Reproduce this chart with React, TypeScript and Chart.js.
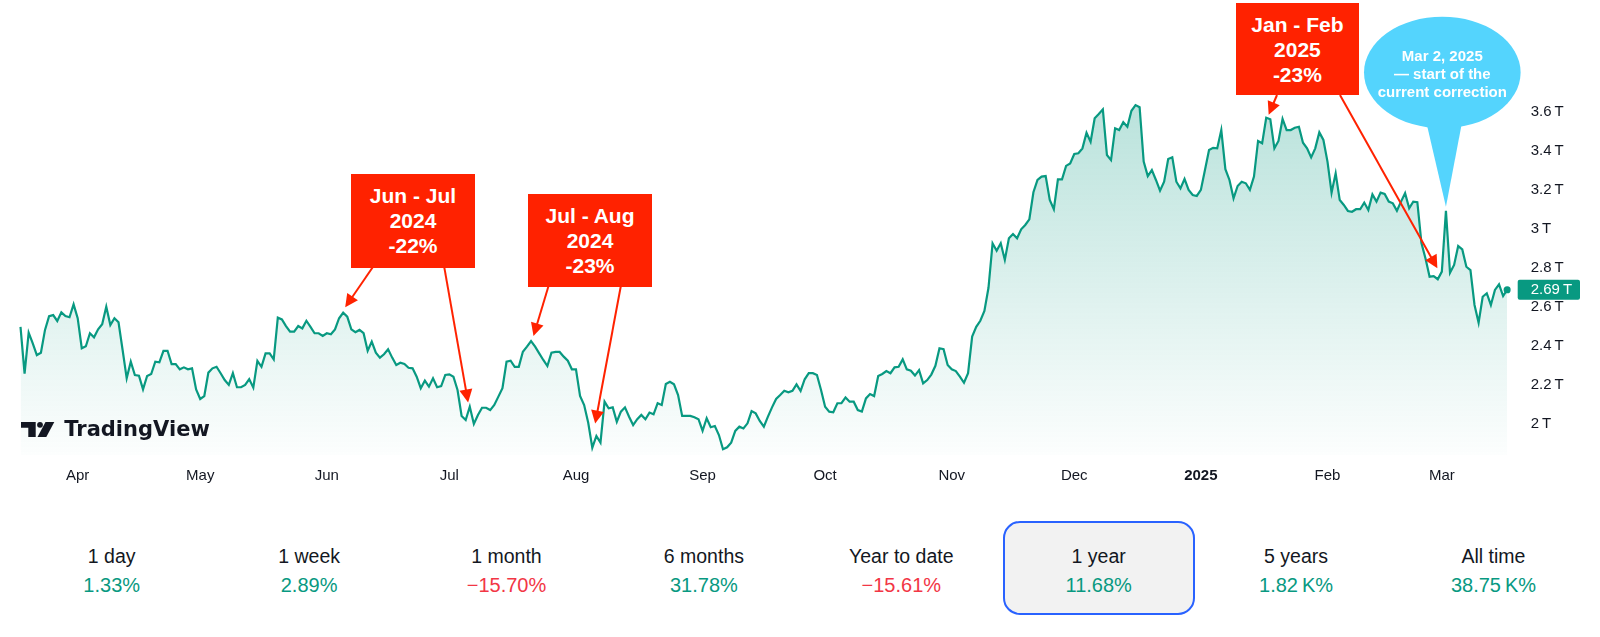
import React, { useEffect, useRef } from "react";
import { Chart, registerables } from "chart.js";

Chart.register(...registerables);

// ---------------- DATA ----------------
// Daily total crypto market cap (trillions USD), starting 2024-03-18, one value per day.
const SERIES_START_UTC = [2024, 2, 18];
const MARKET_CAP_T = [
  2.50, 2.26, 2.47, 2.415, 2.355, 2.367, 2.484, 2.555, 2.56, 2.53,
  2.574, 2.555, 2.549, 2.615, 2.544, 2.39, 2.40, 2.467, 2.446, 2.487,
  2.513, 2.603, 2.509, 2.544, 2.523, 2.381, 2.236, 2.321, 2.253, 2.249,
  2.179, 2.248, 2.258, 2.321, 2.318, 2.377, 2.377, 2.309, 2.309, 2.282,
  2.292, 2.282, 2.287, 2.179, 2.13, 2.145, 2.265, 2.287, 2.295, 2.262,
  2.227, 2.202, 2.262, 2.19, 2.19, 2.202, 2.232, 2.188, 2.325, 2.295,
  2.364, 2.364, 2.333, 2.547, 2.538, 2.504, 2.475, 2.475, 2.504, 2.492,
  2.531, 2.50, 2.467, 2.467, 2.453, 2.467, 2.462, 2.487, 2.544, 2.572,
  2.552, 2.487, 2.472, 2.484, 2.467, 2.377, 2.424, 2.367, 2.342, 2.359,
  2.385, 2.342, 2.304, 2.316, 2.309, 2.29, 2.287, 2.244, 2.185, 2.224,
  2.193, 2.236, 2.19, 2.196, 2.253, 2.256, 2.244, 2.176, 2.043, 2.022,
  2.09, 2.002, 2.048, 2.085, 2.085, 2.073, 2.099, 2.142, 2.185, 2.321,
  2.326, 2.295, 2.295, 2.372, 2.398, 2.427, 2.398, 2.364, 2.33, 2.299,
  2.367, 2.371, 2.371, 2.347, 2.326, 2.282, 2.282, 2.145, 2.099, 2.008,
  1.88, 1.94, 1.906, 2.116, 2.082, 2.087, 2.013, 2.065, 2.087, 2.039,
  1.996, 2.026, 2.048, 2.026, 2.06, 2.051, 2.108, 2.099, 2.207, 2.218,
  2.205, 2.15, 2.043, 2.043, 2.043, 2.036, 2.026, 1.967, 2.031, 1.985,
  1.991, 1.945, 1.872, 1.882, 1.906, 1.966, 1.988, 1.979, 2.005, 2.068,
  2.056, 2.017, 1.988, 2.039, 2.087, 2.13, 2.15, 2.172, 2.164, 2.172,
  2.205, 2.171, 2.231, 2.262, 2.262, 2.253, 2.176, 2.09, 2.065, 2.062,
  2.108, 2.108, 2.138, 2.116, 2.116, 2.073, 2.065, 2.133, 2.155, 2.145,
  2.248, 2.258, 2.273, 2.262, 2.292, 2.295, 2.333, 2.282, 2.275, 2.25,
  2.278, 2.21, 2.227, 2.255, 2.30, 2.39, 2.385, 2.304, 2.282, 2.273,
  2.244, 2.213, 2.262, 2.45, 2.50, 2.531, 2.581, 2.70, 2.928, 2.89,
  2.928, 2.843, 2.954, 2.976, 2.954, 3.0, 3.022, 3.051, 3.19, 3.253,
  3.27, 3.273, 3.15, 3.103, 3.256, 3.256, 3.325, 3.338, 3.386, 3.39,
  3.415, 3.495, 3.449, 3.569, 3.591, 3.615, 3.381, 3.355, 3.518, 3.509,
  3.549, 3.526, 3.608, 3.637, 3.626, 3.347, 3.273, 3.304, 3.253, 3.198,
  3.244, 3.36, 3.369, 3.244, 3.21, 3.258, 3.202, 3.176, 3.171, 3.202,
  3.304, 3.407, 3.418, 3.415, 3.509, 3.308, 3.253, 3.159, 3.222, 3.244,
  3.236, 3.202, 3.27, 3.453, 3.441, 3.572, 3.564, 3.415, 3.453, 3.566,
  3.509, 3.509, 3.521, 3.526, 3.444, 3.415, 3.369, 3.415, 3.497, 3.458,
  3.347, 3.188, 3.287, 3.15, 3.125, 3.094, 3.09, 3.103, 3.103, 3.137,
  3.099, 3.179, 3.142, 3.188, 3.181, 3.142, 3.133, 3.095, 3.142, 3.185,
  3.108, 3.142, 3.139, 2.93, 2.85, 2.757, 2.76, 2.744, 2.783, 3.095,
  2.777, 2.817, 2.914, 2.897, 2.808, 2.791, 2.612, 2.521, 2.654, 2.672,
  2.612, 2.689, 2.718, 2.658, 2.69,
];

const MONTH_TICK_DATES = [
  "2024-04-01", "2024-05-01", "2024-06-01", "2024-07-01", "2024-08-01", "2024-09-01",
  "2024-10-01", "2024-11-01", "2024-12-01", "2025-01-01", "2025-02-01", "2025-03-01",
];
const MONTH_TICK_LABELS = ["Apr", "May", "Jun", "Jul", "Aug", "Sep", "Oct", "Nov", "Dec", "2025", "Feb", "Mar"];
const BOLD_TICK_LABEL = "2025";
const Y_TICKS = [2, 2.2, 2.4, 2.6, 2.8, 3, 3.2, 3.4, 3.6];

const PERIOD_LABELS = ["1 day", "1 week", "1 month", "6 months", "Year to date", "1 year", "5 years", "All time"];
const PERIOD_CHANGES = ["1.33%", "2.89%", "\u221215.70%", "31.78%", "\u221215.61%", "11.68%", "1.82\u202FK%", "38.75\u202FK%"];
const PERIOD_NEGATIVE = [false, false, true, false, true, false, false, false];
const SELECTED_PERIOD = 5;

const CALLOUT_TITLES = ["Jun - Jul", "Jul - Aug", "Jan - Feb"];
const CALLOUT_YEARS = ["2024", "2024", "2025"];
const CALLOUT_DRAWDOWNS = ["-22%", "-23%", "-23%"];
// arrow tips in data coordinates (day index, value in T)
const ARROW_TIP_INDEX = [79.5, 109.6, 125.6, 140.7, 305.6, 346.9];
const ARROW_TIP_VALUE = [2.60, 2.112, 2.453, 2.004, 3.588, 2.80];
const BUBBLE_LINES = ["Mar 2, 2025", "\u2014 start of the", "current correction"];
const BUBBLE_TIP_INDEX = 349;
const BUBBLE_TIP_VALUE = 3.116;

// ---------------- LAYOUT / STYLE ----------------
const FONT = '"Liberation Sans", Arial, Helvetica, sans-serif';
const GREEN = "#089981";
const RED_TEXT = "#f23645";
const CALLOUT_RED = "#ff2200";
const BUBBLE_BLUE = "#54d4fd";
const INK = "#131722";

const CANVAS_H = 490;
const PLOT_LEFT = 20.5;
const PLOT_TOP = 20;
const Y_AXIS_W = 92.8;
const X_AXIS_H = 35;
const Y_MIN = 1.8426;
const Y_MAX = 4.0733;

const CALLOUT_BOXES = [
  { left: 351, top: 174.3, width: 124, height: 93.4 },
  { left: 528.3, top: 194, width: 123.4, height: 92.7 },
  { left: 1235.6, top: 3, width: 123.6, height: 92 },
];
const ARROW_STARTS = [
  [372.7, 267.3], [444.3, 267.3],
  [548.3, 286.7], [620.7, 286.7],
  [1277, 95], [1340, 95],
];
const BUBBLE = { cx: 1442.3, cy: 72.5, rx: 78.3, ry: 55.8, tailL: 1426.7, tailR: 1461.7, tailY: 124 };

function buildDateLabels(n: number): string[] {
  const out: string[] = [];
  for (let i = 0; i < n; i++) {
    const d = new Date(Date.UTC(SERIES_START_UTC[0], SERIES_START_UTC[1], SERIES_START_UTC[2] + i));
    out.push(d.toISOString().slice(0, 10));
  }
  return out;
}

function drawArrow(ctx: CanvasRenderingContext2D, x0: number, y0: number, x1: number, y1: number) {
  const ang = Math.atan2(y1 - y0, x1 - x0);
  const headLen = 13;
  const headHalf = 6.5;
  const bx = x1 - Math.cos(ang) * headLen;
  const by = y1 - Math.sin(ang) * headLen;
  ctx.strokeStyle = CALLOUT_RED;
  ctx.fillStyle = CALLOUT_RED;
  ctx.lineWidth = 2;
  ctx.beginPath();
  ctx.moveTo(x0, y0);
  ctx.lineTo(bx + Math.cos(ang) * 2, by + Math.sin(ang) * 2);
  ctx.stroke();
  ctx.beginPath();
  ctx.moveTo(x1, y1);
  ctx.lineTo(bx + Math.sin(ang) * headHalf, by - Math.cos(ang) * headHalf);
  ctx.lineTo(bx - Math.sin(ang) * headHalf, by + Math.cos(ang) * headHalf);
  ctx.closePath();
  ctx.fill();
}

const overlayPlugin = {
  id: "overlayPlugin",
  afterDatasetsDraw(chart: any) {
    const { ctx, chartArea } = chart;
    const xs = chart.scales.x;
    const ys = chart.scales.y;
    ctx.save();

    // arrows
    ARROW_STARTS.forEach((s, i) => {
      const tx = xs.getPixelForValue(ARROW_TIP_INDEX[i]);
      const ty = ys.getPixelForValue(ARROW_TIP_VALUE[i]);
      drawArrow(ctx, s[0], s[1], tx, ty);
    });

    // speech bubble
    const tipX = xs.getPixelForValue(BUBBLE_TIP_INDEX);
    const tipY = ys.getPixelForValue(BUBBLE_TIP_VALUE);
    ctx.fillStyle = BUBBLE_BLUE;
    ctx.beginPath();
    ctx.ellipse(BUBBLE.cx, BUBBLE.cy, BUBBLE.rx, BUBBLE.ry, 0, 0, Math.PI * 2);
    ctx.fill();
    ctx.beginPath();
    ctx.moveTo(BUBBLE.tailL, BUBBLE.tailY);
    ctx.lineTo(BUBBLE.tailR, BUBBLE.tailY);
    ctx.lineTo(tipX, tipY);
    ctx.closePath();
    ctx.fill();

    // last price label
    const data = chart.data.datasets[0].data;
    const last = data[data.length - 1];
    const py = ys.getPixelForValue(last);
    ctx.fillStyle = GREEN;
    ctx.beginPath();
    if (ctx.roundRect) ctx.roundRect(chartArea.right + 10.5, py - 10, 62.3, 20, 2);
    else ctx.rect(chartArea.right + 10.5, py - 10, 62.3, 20);
    ctx.fill();
    ctx.fillStyle = "#ffffff";
    ctx.font = `15px ${FONT}`;
    ctx.textBaseline = "middle";
    ctx.textAlign = "left";
    ctx.fillText(`${last.toFixed(2)}\u202FT`, chartArea.right + 23.5, py + 0.5);

    // TradingView logo mark
    ctx.fillStyle = INK;
    ctx.beginPath();
    ctx.moveTo(21, 422);
    ctx.lineTo(35.7, 422);
    ctx.lineTo(35.7, 437);
    ctx.lineTo(28.3, 437);
    ctx.lineTo(28.3, 427.7);
    ctx.lineTo(21, 427.7);
    ctx.closePath();
    ctx.fill();
    ctx.beginPath();
    ctx.arc(40, 424.8, 2.9, 0, Math.PI * 2);
    ctx.fill();
    ctx.beginPath();
    ctx.moveTo(45.5, 422);
    ctx.lineTo(54.3, 422);
    ctx.lineTo(46.3, 437);
    ctx.lineTo(37.5, 437);
    ctx.closePath();
    ctx.fill();

    ctx.restore();
  },
};

function PriceChart() {
  const ref = useRef<HTMLCanvasElement | null>(null);
  useEffect(() => {
    if (!ref.current) return;
    const labels = buildDateLabels(MARKET_CAP_T.length);
    const chart = new Chart(ref.current, {
      type: "line",
      data: {
        labels,
        datasets: [
          {
            data: MARKET_CAP_T,
            borderColor: GREEN,
            borderWidth: 2.2,
            tension: 0,
            fill: "start",
            backgroundColor: (c: any) => {
              const ch = c.chart;
              const area = ch.chartArea;
              if (!area) return "rgba(8,153,129,0.12)";
              const topY = ch.scales.y.getPixelForValue(Math.max(...MARKET_CAP_T));
              const g = ch.ctx.createLinearGradient(0, topY, 0, area.bottom);
              g.addColorStop(0, "rgba(8,153,129,0.28)");
              g.addColorStop(1, "rgba(8,153,129,0.01)");
              return g;
            },
            pointRadius: (c: any) => (c.dataIndex === MARKET_CAP_T.length - 1 ? 3.6 : 0),
            pointBackgroundColor: GREEN,
            pointBorderWidth: 0,
            pointHoverRadius: 0,
          },
        ],
      },
      options: {
        animation: false,
        responsive: true,
        maintainAspectRatio: false,
        events: [],
        layout: { padding: { left: PLOT_LEFT, top: PLOT_TOP, right: 0, bottom: 0 } },
        plugins: { legend: { display: false }, tooltip: { enabled: false } },
        scales: {
          x: {
            type: "category",
            offset: false,
            grid: { display: false, drawTicks: false },
            border: { display: false },
            afterFit: (s: any) => {
              s.height = X_AXIS_H;
              s.paddingLeft = 0;
              s.paddingRight = 0;
            },
            ticks: {
              autoSkip: false,
              maxRotation: 0,
              minRotation: 0,
              padding: 12,
              color: INK,
              font: (c: any) => ({
                family: FONT,
                size: 15,
                weight: c.tick && c.tick.label === BOLD_TICK_LABEL ? "bold" : "normal",
              }),
              callback: function (this: any, value: any) {
                const lbl = this.getLabelForValue(value);
                const k = MONTH_TICK_DATES.indexOf(lbl);
                return k >= 0 ? MONTH_TICK_LABELS[k] : null;
              },
            },
          },
          y: {
            type: "linear",
            position: "right",
            min: Y_MIN,
            max: Y_MAX,
            grid: { display: false, drawTicks: false },
            border: { display: false },
            afterBuildTicks: (s: any) => {
              s.ticks = Y_TICKS.map((v) => ({ value: v }));
            },
            afterFit: (s: any) => {
              s.width = Y_AXIS_W;
              s.paddingTop = 0;
              s.paddingBottom = 0;
            },
            ticks: {
              padding: 23.5,
              color: INK,
              font: { family: FONT, size: 15 },
              callback: (v: any) => `${+Number(v).toFixed(1)}\u202FT`,
            },
          },
        },
      },
      plugins: [overlayPlugin],
    } as any);
    return () => chart.destroy();
  }, []);
  return (
    <div style={{ position: "absolute", left: 0, top: 0, width: 1600, height: CANVAS_H }}>
      <canvas ref={ref} />
    </div>
  );
}

export default function App() {
  const colW = 197.4;
  const rowLeft = 13;
  return (
    <div
      style={{
        position: "absolute",
        left: 0,
        top: 0,
        width: 1600,
        height: 637,
        background: "#ffffff",
        overflow: "hidden",
        fontFamily: FONT,
      }}
    >
      <PriceChart />

      {CALLOUT_BOXES.map((b, i) => (
        <div
          key={"c" + i}
          style={{
            position: "absolute",
            left: b.left,
            top: b.top,
            width: b.width,
            height: b.height,
            background: CALLOUT_RED,
            color: "#ffffff",
            fontWeight: "bold",
            fontSize: 21,
            lineHeight: "25px",
            display: "flex",
            flexDirection: "column",
            alignItems: "center",
            justifyContent: "center",
            textAlign: "center",
            pointerEvents: "none",
          }}
        >
          <div>{CALLOUT_TITLES[i]}</div>
          <div>{CALLOUT_YEARS[i]}</div>
          <div>{CALLOUT_DRAWDOWNS[i]}</div>
        </div>
      ))}

      <div
        style={{
          position: "absolute",
          left: BUBBLE.cx - 100,
          top: 47.1,
          width: 200,
          textAlign: "center",
          color: "#ffffff",
          fontWeight: "bold",
          fontSize: 15,
          lineHeight: "17.8px",
          pointerEvents: "none",
        }}
      >
        {BUBBLE_LINES.map((l, i) => (
          <div key={"b" + i}>{l}</div>
        ))}
      </div>

      <div
        style={{
          position: "absolute",
          left: 64.3,
          top: 419,
          fontFamily: '"DejaVu Sans", sans-serif',
          fontWeight: "bold",
          fontSize: 21,
          lineHeight: "21px",
          color: INK,
          whiteSpace: "nowrap",
        }}
      >
        TradingView
      </div>

      <div
        style={{
          position: "absolute",
          left: 1003,
          top: 521,
          width: 192.4,
          height: 94,
          boxSizing: "border-box",
          border: "2px solid #2962ff",
          borderRadius: 17,
          background: "#f2f2f2",
          display: SELECTED_PERIOD >= 0 ? "block" : "none",
        }}
      />

      {PERIOD_LABELS.map((lbl, i) => (
        <div
          key={"p" + i}
          style={{
            position: "absolute",
            left: rowLeft + colW * i,
            top: 543,
            width: colW,
            textAlign: "center",
          }}
        >
          <div style={{ fontSize: 19.5, lineHeight: "26px", color: INK }}>{lbl}</div>
          <div
            style={{
              fontSize: 20,
              lineHeight: "26px",
              marginTop: 3,
              color: PERIOD_NEGATIVE[i] ? RED_TEXT : GREEN,
            }}
          >
            {PERIOD_CHANGES[i]}
          </div>
        </div>
      ))}
    </div>
  );
}
